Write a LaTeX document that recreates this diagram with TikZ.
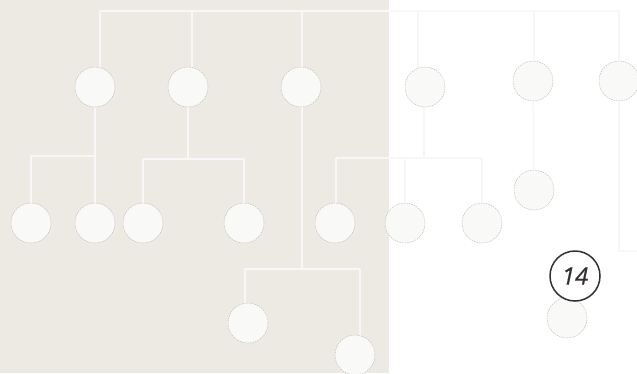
\documentclass[tikz,border=0pt]{standalone}
\usepackage{fontspec}
\newfontfamily\numfont[ItalicFeatures={FakeBold=0.5}]{Open Sans}
\pgfdeclarelayer{bg}
\pgfdeclarelayer{lines}
\pgfsetlayers{bg,lines,main}
\definecolor{beige}{HTML}{EDE9E3}
\definecolor{linec}{HTML}{F7F7F7}
\definecolor{circfill}{HTML}{F9F9F8}
\definecolor{circedge}{HTML}{C4C2BF}
\definecolor{darkc}{HTML}{352F2F}
\tikzset{
  blob/.style={circle, minimum size=40pt, inner sep=0pt, fill=circfill, draw=circedge,
    line width=0.5pt, dash pattern=on 1.6pt off 1pt},
  conn/.style={draw=linec, line width=1.6pt},
  badge/.style={circle, minimum size=50pt, inner sep=0pt, fill=white, draw=darkc,
    line width=1.5pt, text=darkc, font=\numfont\itshape\fontsize{24}{24}\selectfont}
}
\begin{document}
\begin{tikzpicture}[x=1pt,y=-1pt]
\useasboundingbox (0,0) rectangle (637,373);
\begin{pgfonlayer}{bg}
  \fill[white] (0,0) rectangle (637,373);
  \fill[beige] (0,0) rectangle (389,373);
\end{pgfonlayer}
% row 1
\node[blob] (a1) at (95,87) {};
\node[blob] (a2) at (188,87) {};
\node[blob] (a3) at (301,87) {};
\node[blob] (a4) at (425,87) {};
\node[blob] (a5) at (533,81) {};
\node[blob] (a6) at (619,81) {};
% row 2
\node[blob] (b5) at (534,190) {};
% row 3
\node[blob] (c1) at (31,223) {};
\node[blob] (c2) at (95,223) {};
\node[blob] (c3) at (143,223) {};
\node[blob] (c4) at (244,223) {};
\node[blob] (c5) at (335,223) {};
\node[blob] (c6) at (405,223) {};
\node[blob] (c7) at (482,223) {};
% row 4
\node[blob] (d1) at (248,323) {};
\node[blob] (d2) at (355,355) {};
\node[blob] (e1) at (567,318) {};
\node[badge] (n14) at (575,276) {14};
% junctions
\coordinate (t1) at (100,11);
\coordinate (t2) at (192,11);
\coordinate (t3) at (302,11);
\coordinate (t4) at (418,11);
\coordinate (t5) at (534,11);
\coordinate (t6) at (619,11);
\coordinate (j1) at (95,156);
\coordinate (j2) at (188,159);
\coordinate (j2l) at (143,159);
\coordinate (j2r) at (244,159);
\coordinate (j3) at (302,269);
\coordinate (j3l) at (245,269);
\coordinate (j3r) at (360,269);
\coordinate (j4) at (424,158);
\coordinate (j4l) at (336,158);
\coordinate (j4r) at (482,158);
\coordinate (j6) at (619,251);
\coordinate (j6r) at (640,251);
\begin{pgfonlayer}{lines}
  \draw[conn] (t1) -- (t6);
  \draw[conn] (t1) -- (t1 |- a1);
  \draw[conn] (t2) -- (t2 |- a2);
  \draw[conn] (t3) -- (t3 |- a3);
  \draw[conn] (t4) -- (t4 |- a4);
  \draw[conn] (t5) -- (t5 |- a5);
  \draw[conn] (t6) -- (a6);
  % a1 branch
  \draw[conn] (a1) -- (c2);
  \draw[conn] (j1) -| (c1);
  % a2 branch
  \draw[conn] (a2) -- (j2);
  \draw[conn] (j2l) -- (j2r);
  \draw[conn] (j2l) -- (j2l |- c3);
  \draw[conn] (j2r) -- (c4);
  % a3 branch
  \draw[conn] (j3 |- a3) -- (j3);
  \draw[conn] (j3l) -- (j3r);
  \draw[conn] (j3l) -- (j3l |- d1);
  \draw[conn] (j3r) -- (j3r |- d2);
  % a4 branch
  \draw[conn] (j4 |- a4) -- (j4);
  \draw[conn] (j4l) -- (j4r);
  \draw[conn] (j4l) -- (j4l |- c5);
  \draw[conn] (j4r) -- (c7);
  \draw[conn] (j4 -| c6) -- (c6);
  % a5 branch
  \draw[conn] (a5) -- (b5);
  % a6 branch
  \draw[conn] (a6) -- (j6) -- (j6r);
\end{pgfonlayer}
\end{tikzpicture}
\end{document}
